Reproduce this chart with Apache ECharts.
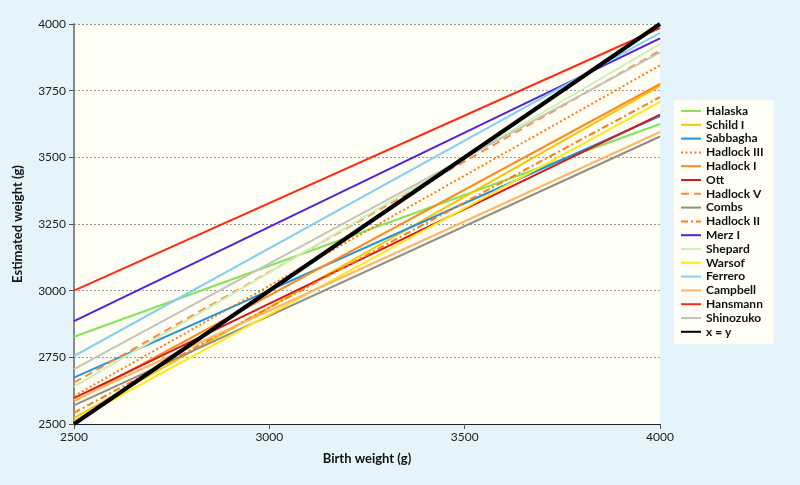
<!DOCTYPE html>
<html><head><meta charset="utf-8">
<script src="https://cdn.jsdelivr.net/npm/echarts@6/dist/echarts.min.js"></script>
<style>html,body{margin:0;padding:0;background:#e4f4fa}#c{width:800px;height:485px}</style>
</head><body><div id="c"></div>
<script>
const names = ["Halaska","Schild I","Sabbagha","Hadlock III","Hadlock I","Ott","Hadlock V","Combs","Hadlock II","Merz I","Shepard","Warsof","Ferrero","Campbell","Hansmann","Shinozuko","x = y"];
const startValues = [2827,2522,2674,2605,2586,2597,2655,2570,2542,2886,2640,2512,2755,2590,3000,2706,2500];
const endValues   = [3625,3768,3655,3845,3775,3660,3900,3578,3726,3946,3925,3708,3967,3595,3985,3894,4000];
const xRange = [2500,4000];
const yTicks = [2500,2750,3000,3250,3500,3750,4000];
const xTicks = [2500,3000,3500,4000];

const colors = ["#84e35a","#f7c600","#2090e0","#ff7a10","#ff8a20","#d41818","#ff8a3a","#8f8f86","#ff7a10","#5520d8","#cdf0b8","#ffe818","#84d0f2","#ffb466","#ff2a14","#c4c4bc","#000000"];
const types = ["solid","solid","solid",[2,2.5],"solid","solid",[8,5],"solid",[7,3,2,3],"solid","solid","solid","solid","solid","solid","solid","solid"];
const widths = [2,2,2,2,2,2,2,2,2,2,2,2,2,2,2,2,4];

const series = names.map((n,i)=>({
  name:n, type:'line', symbol:'none', showSymbol:false, silent:true,
  data:[[xRange[0],startValues[i]],[xRange[1],endValues[i]]],
  lineStyle:{color:colors[i],width:widths[i],type:types[i]},
  itemStyle:{color:colors[i]},
  z: i===names.length-1?10:2
}));

const chart = echarts.init(document.getElementById('c'),null,{renderer:'canvas'});
chart.setOption({
  animation:false,
  backgroundColor:'#e4f4fa',
  textStyle:{fontFamily:'Lato'},
  grid:{left:74,top:24,width:586,height:400,show:true,backgroundColor:'#fefef4',borderWidth:0},
  legend:{
    orient:'vertical', left:674, top:100, itemWidth:20, itemHeight:10, itemGap:1.8,
    backgroundColor:'#fefef6', padding:[5,10,6,6],
    itemStyle:{opacity:0},
    textStyle:{fontSize:12,fontFamily:'Lato',fontWeight:'bold',color:'#111',lineHeight:11},
    data:names
  },
  xAxis:{
    type:'value', min:xRange[0], max:xRange[1], interval:500,
    name:'Birth weight (g)', nameLocation:'middle', nameGap:28,
    nameTextStyle:{fontSize:13,fontWeight:'bold',color:'#111',fontFamily:'Lato'},
    axisLine:{show:true,lineStyle:{color:'#222',width:1}},
    axisTick:{show:true,length:5,lineStyle:{color:'#555'}},
    axisLabel:{fontSize:12,color:'#222',margin:7,formatter:v=>String(v)},
    splitLine:{show:false}
  },
  yAxis:{
    type:'value', min:yTicks[0], max:yTicks[yTicks.length-1], interval:250,
    name:'Estimated weight (g)', nameLocation:'middle', nameGap:50, nameRotate:90,
    nameTextStyle:{fontSize:13,fontWeight:'bold',color:'#111',fontFamily:'Lato'},
    axisLine:{show:true,lineStyle:{color:'#888',width:2}},
    axisTick:{show:true,length:5,lineStyle:{color:'#555'}},
    axisLabel:{fontSize:12,color:'#222',margin:8,formatter:v=>String(v)},
    splitLine:{show:true,lineStyle:{color:'#999',type:[2,2],width:1}}
  },
  series:series
});
</script></body></html>
